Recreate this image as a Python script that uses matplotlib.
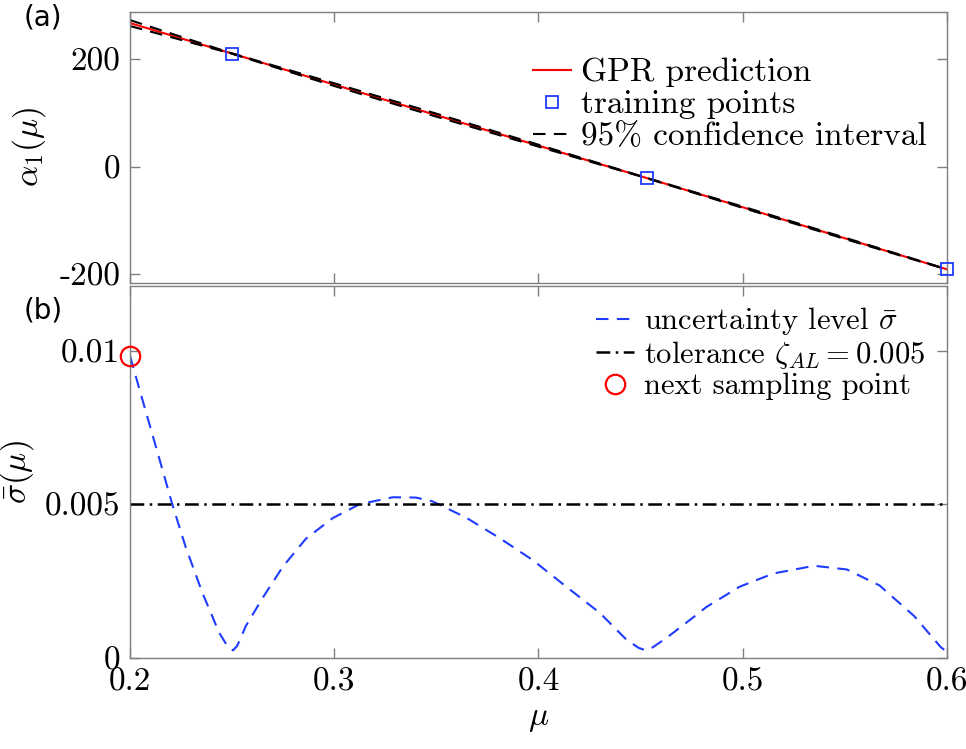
import matplotlib
matplotlib.use("Agg")
import matplotlib.pyplot as plt
import numpy as np

plt.rcParams['font.family'] = 'serif'
plt.rcParams['font.serif'] = ['cmr10']
plt.rcParams['mathtext.fontset'] = 'cm'
plt.rcParams['axes.unicode_minus'] = False

# GPR prediction of alpha_1 (top panel)
mu_grid = [0.2, 0.25, 0.3, 0.35, 0.4, 0.45, 0.5, 0.55, 0.6]
alpha_pred = [268, 211, 153, 96, 39, -18, -76, -134, -192]
ci_half = [5.5, 0.3, 2.5, 2.8, 1.8, 0.3, 1.2, 1.2, 0.3]
mu_train = [0.25, 0.453, 0.6]
alpha_train = [211, -21, -191]

# uncertainty level (bottom panel)
mu_sig = [0.200, 0.206, 0.212, 0.2207, 0.2273, 0.2355, 0.2436, 0.248, 0.2505,
          0.2525, 0.2567, 0.2649, 0.2747, 0.2861, 0.2992, 0.3123, 0.3286,
          0.340, 0.348, 0.3645, 0.381, 0.3973, 0.4136, 0.430, 0.443, 0.449,
          0.4525, 0.456, 0.4626, 0.4773, 0.482, 0.4985, 0.515, 0.535, 0.551,
          0.567, 0.584, 0.597, 0.600]
sigma_bar = [0.00983, 0.00842, 0.00703, 0.00500, 0.00360, 0.00211, 0.00083,
             0.00035, 0.00025, 0.00040, 0.00104, 0.00195, 0.00296, 0.00388,
             0.00455, 0.00500, 0.00523, 0.00522, 0.00510, 0.00457, 0.00390,
             0.00318, 0.00232, 0.00147, 0.00060, 0.00033, 0.00025, 0.00035,
             0.00065, 0.00140, 0.00165, 0.00232, 0.00275, 0.00300, 0.00288,
             0.00236, 0.00136, 0.00035, 0.00020]
tol = 0.005
mu_next = 0.2
sigma_next = 0.00983

x_ticks = [0.2, 0.3, 0.4, 0.5, 0.6]
x_labels = ['0.2', '0.3', '0.4', '0.5', '0.6']
y1_ticks = [-200, 0, 200]
y1_labels = ['-200', '0', '200']
y2_ticks = [0, 0.005, 0.01]
y2_labels = ['0', '0.005', '0.01']

gray = '#7f7f7f'
blue = '#1f3cff'
fig = plt.figure(figsize=(9.66, 7.49), dpi=100)
ax1 = fig.add_axes([0.1346, 0.6225, 0.8457, 0.3610])
ax2 = fig.add_axes([0.1346, 0.1215, 0.8457, 0.4965])

lo = np.array(alpha_pred) - np.array(ci_half)
hi = np.array(alpha_pred) + np.array(ci_half)
ax1.plot(mu_grid, alpha_pred, color='red', lw=1.5, label='GPR prediction')
ax1.plot(mu_train, alpha_train, 's', ms=8, mfc='none', mec=blue, mew=1.3,
         clip_on=False, label='training points', zorder=5)
ax1.plot(mu_grid, hi, '--', color='black', lw=1.5, dashes=(6, 4),
         label='95% confidence interval')
ax1.plot(mu_grid, lo, '--', color='black', lw=1.5, dashes=(6, 4))
ax1.set_xlim(0.2, 0.6)
ax1.set_ylim(-217, 288)
ax1.set_yticks(y1_ticks)
ax1.set_yticklabels(y1_labels)
ax1.set_xticks(x_ticks)
ax1.set_xticklabels([])
ax1.set_ylabel(r'$\alpha_1(\mu)$', fontsize=24, labelpad=8)
ax1.legend(loc='upper right', bbox_to_anchor=(0.9596, 0.923),
           bbox_transform=fig.transFigure, frameon=False, fontsize=24,
           handlelength=1.15, handletextpad=0.3, labelspacing=0.08,
           borderpad=0, borderaxespad=0)

ax2.plot(mu_sig, sigma_bar, '--', color=blue, lw=1.5, dashes=(6, 4),
         label=r'uncertainty level $\bar{\sigma}$')
ax2.axhline(tol, color='black', lw=1.8, dashes=(5.5, 2.2, 1, 2.2),
            label=r'tolerance $\zeta_{AL} = 0.005$')
ax2.plot([mu_next], [sigma_next], 'o', ms=14, mfc='none', mec='red', mew=1.6,
         clip_on=False, label='next sampling point', zorder=5)
ax2.set_xlim(0.2, 0.6)
ax2.set_ylim(0, 0.0121)
ax2.set_yticks(y2_ticks)
ax2.set_yticklabels(y2_labels)
ax2.set_xticks(x_ticks)
ax2.set_xticklabels(x_labels)
ax2.set_xlabel(r'$\mu$', fontsize=24, labelpad=6)
ax2.set_ylabel(r'$\bar{\sigma}(\mu)$', fontsize=24, labelpad=6)
ax2.legend(loc='upper right', bbox_to_anchor=(0.9576, 0.5925),
           bbox_transform=fig.transFigure, frameon=False, fontsize=22,
           handlelength=1.24, handletextpad=0.33, labelspacing=0.06,
           borderpad=0, borderaxespad=0)

for ax in (ax1, ax2):
    for s in ax.spines.values():
        s.set_color(gray)
        s.set_linewidth(1.0)
    ax.tick_params(direction='in', length=7, width=1.0, color=gray,
                   top=True, right=True, labelsize=24, pad=7)

fig.text(0.024, 0.976, '(a)', fontsize=20, family='DejaVu Sans', va='center')
fig.text(0.024, 0.586, '(b)', fontsize=20, family='DejaVu Sans', va='center')

fig.savefig('out.png', dpi=100)
